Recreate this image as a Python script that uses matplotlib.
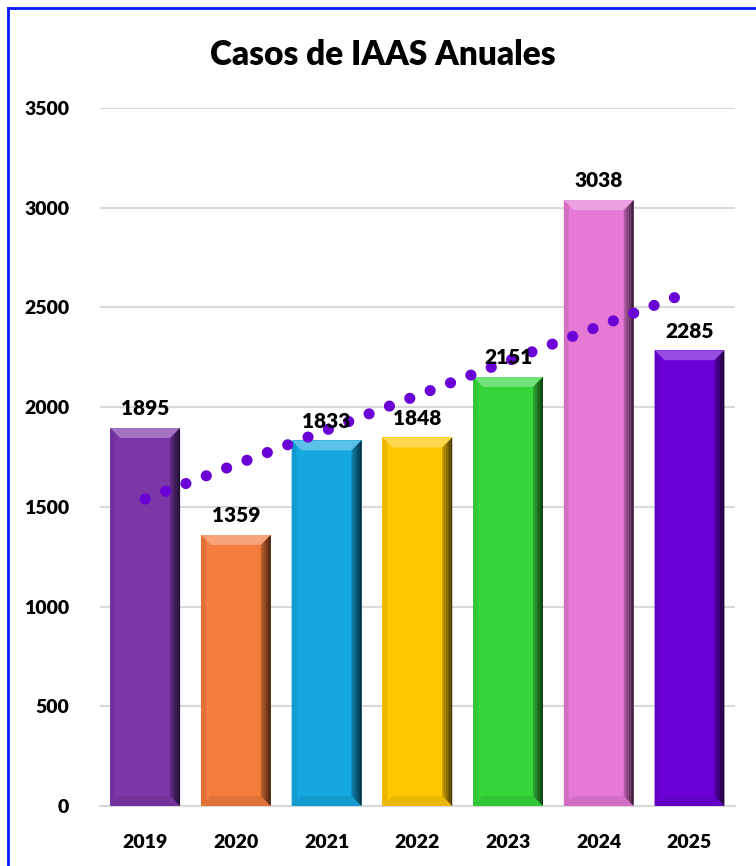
import numpy as np
import matplotlib.pyplot as plt
from matplotlib.patches import Polygon, Rectangle
from matplotlib.lines import Line2D
from matplotlib.colors import to_rgb

years = ['2019', '2020', '2021', '2022', '2023', '2024', '2025']
casos = [1895, 1359, 1833, 1848, 2151, 3038, 2285]
colores = ['#7b36a8', '#f47c3c', '#15a7e0', '#ffc800', '#36d63b', '#e678d6', '#6a00d6']

plt.rcParams['font.family'] = ['Lato', 'DejaVu Sans']

fig = plt.figure(figsize=(7.56, 8.66), dpi=100)
ax = fig.add_axes([0.132, 0.0693, 0.84, 0.806])

x = np.arange(len(years))
w = 0.77
ax.set_xlim(-0.5, len(years) - 0.5)
ax.set_ylim(0, 3500)


def mezcla(c, otro, f):
    c = np.array(to_rgb(c))
    return tuple(c * (1 - f) + np.array(otro) * f)


# bevel size in data units (about 10 px)
bx = 0.11
by = 50

for xi, v, c in zip(x, casos, colores):
    l, r = xi - w / 2, xi + w / 2
    ax.add_patch(Rectangle((l, 0), w, v, fc=c, ec='none', zorder=2))
    # top face, lighter
    ax.add_patch(Polygon([(l, v), (r, v), (r - bx, v - by), (l + bx, v - by)],
                         fc=mezcla(c, (1, 1, 1), 0.3), ec='none', zorder=3))
    # bottom face, slightly darker
    ax.add_patch(Polygon([(l, 0), (r, 0), (r - bx, by), (l + bx, by)],
                         fc=mezcla(c, (0, 0, 0), 0.08), ec='none', zorder=3))
    # left side
    ax.add_patch(Polygon([(l, 0), (l + bx * 0.5, by * 0.5), (l + bx * 0.5, v - by * 0.5), (l, v)],
                         fc=mezcla(c, (0, 0, 0), 0.08), ec='none', zorder=3))
    # right side, shaded gradient
    n = 6
    for k in range(n):
        a = bx * (1 - k / n)
        b = bx * (1 - (k + 1) / n)
        ax.add_patch(Polygon([(r - a, by * a / bx), (r - b, by * b / bx),
                              (r - b, v - by * b / bx), (r - a, v - by * a / bx)],
                             fc=mezcla(c, (0, 0, 0), 0.15 + 0.6 * (k + 1) / n),
                             ec='none', zorder=3))
    ax.annotate(str(v), (xi, v), xytext=(0, 7), textcoords='offset points',
                ha='center', va='bottom', fontsize=15, fontweight='heavy', zorder=5)

# linear trend line
p = np.polyfit(x, casos, 1)
ax.plot(x, np.polyval(p, x), color='#6a00d6', lw=8,
        ls=(0, (0.01, 1.95)), dash_capstyle='round', zorder=4)

ax.set_yticks(np.arange(0, 3501, 500))
ax.set_xticks(x)
ax.set_xticklabels(years)
ax.tick_params(length=0, labelsize=14)
ax.tick_params(axis='x', pad=20)
ax.tick_params(axis='y', pad=22)
for t in ax.get_xticklabels() + ax.get_yticklabels():
    t.set_fontweight('heavy')
ax.grid(axis='y', color='#d9d9d9', lw=1.5, zorder=0)
ax.set_axisbelow(True)
for s in ['top', 'right', 'left']:
    ax.spines[s].set_visible(False)
ax.spines['bottom'].set_color('#d9d9d9')
ax.spines['bottom'].set_linewidth(1.5)

fig.text(0.507, 0.937, 'Casos de IAAS Anuales', ha='center', va='center',
         fontsize=24, fontweight='heavy')

# blue frame
fig.add_artist(Line2D([0.011, 0.011], [0, 0.991], color='#0a1aff', lw=2))
fig.add_artist(Line2D([0.011, 1], [0.991, 0.991], color='#0a1aff', lw=2))

fig.savefig('out.png', dpi=100)
